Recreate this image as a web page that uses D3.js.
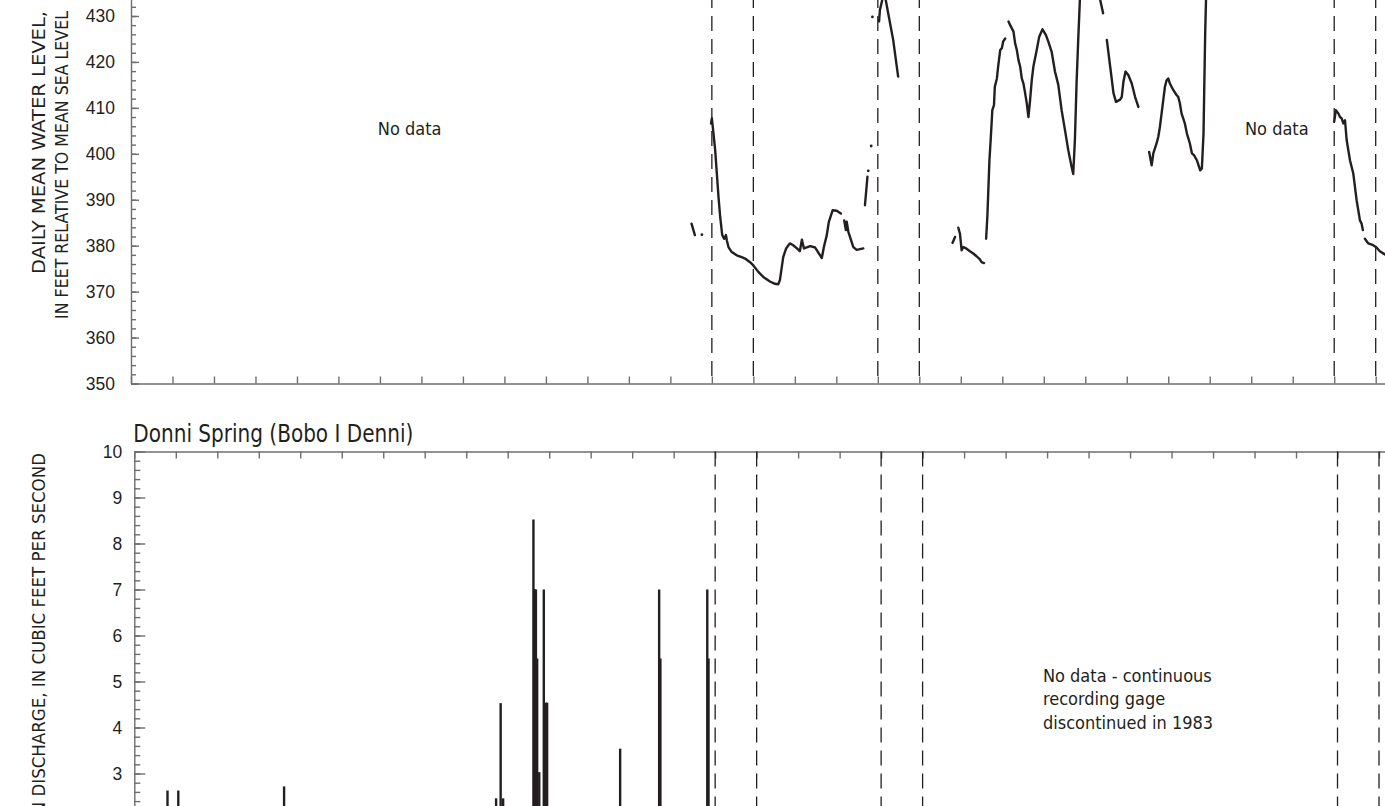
<!DOCTYPE html>
<html>
<head>
<meta charset="utf-8">
<script src="https://cdn.jsdelivr.net/npm/d3@7"></script>
<style>
  html, body { margin: 0; padding: 0; background: #fff; }
  svg { display: block; font-family: "Liberation Sans Narrow", "Arial Narrow", "DejaVu Sans Condensed", sans-serif; }
  .axis path, .axis line { stroke: #6d6e71; stroke-width: 1.4; }
  .axis text { fill: #231f20; font-size: 17.5px; }
  .title { fill: #231f20; font-size: 18.5px; }
  .note { fill: #231f20; font-size: 18px; }
  .gap { stroke: #231f20; stroke-width: 1.3; stroke-dasharray: 15 8; }
</style>
</head>
<body>
<svg id="chart" width="1385" height="806"></svg>
<script>
/* Water level of the well (top) and Donni Spring discharge (bottom),
 * shared yearly time axis. Only the part of the figure in view is drawn.
 */

// years at tick marks, and the start/end of the dashed comparison windows
const YEARS = d3.range(1969, 2001);
const WINDOW_YEARS = [1983, 1984, 1987, 1988, 1998, 1999];

// daily mean water level, feet above msl; null = break in record
const LEVEL_SERIES = [
  [1982.51, 384.8], [1982.59, 382.3], null,
  [1982.98, 406.6], [1983.00, 407.7], [1983.03, 405.2], [1983.08, 400.8], [1983.12, 395.7],
  [1983.16, 390.6], [1983.20, 386.3], [1983.25, 382.3], [1983.30, 381.5], [1983.34, 382.3],
  [1983.36, 381.2], [1983.40, 379.7], [1983.48, 378.6], [1983.60, 377.9], [1983.72, 377.5],
  [1983.80, 377.2], [1983.92, 376.4], [1984.00, 375.7], [1984.12, 374.3], [1984.24, 373.2],
  [1984.40, 372.2], [1984.52, 371.7], [1984.60, 371.6], [1984.64, 372.5], [1984.72, 377.5],
  [1984.79, 379.4], [1984.88, 380.5], [1984.96, 380.1], [1985.05, 379.4], [1985.12, 378.8],
  [1985.17, 381.3], [1985.22, 379.4], [1985.37, 379.9], [1985.49, 379.6], [1985.65, 377.3],
  [1985.70, 379.7], [1985.77, 382.3], [1985.82, 385.2], [1985.91, 387.7], [1986.01, 387.6],
  [1986.11, 387.0], null,
  [1986.19, 385.5], [1986.23, 383.4], [1986.25, 385.2], [1986.29, 383.0], [1986.41, 379.7],
  [1986.49, 379.1], [1986.65, 379.4], null,
  [1986.69, 388.8], [1986.75, 395.0], null,
  [1987.03, 428.8], [1987.05, 431.3], [1987.09, 432.8], [1987.15, 435.5], [1987.25, 430.6],
  [1987.37, 424.8], [1987.49, 416.8], null,
  [1988.80, 380.6], [1988.86, 381.9], null,
  [1988.94, 383.9], [1988.98, 382.6], [1989.02, 379.0], [1989.06, 379.7], [1989.13, 379.4],
  [1989.22, 378.8], [1989.30, 378.3], [1989.38, 377.7], [1989.46, 377.0], [1989.50, 376.4],
  [1989.56, 376.2], null,
  [1989.61, 381.5], [1989.64, 386.3], [1989.69, 398.6], [1989.72, 403.0], [1989.76, 409.5],
  [1989.80, 410.6], [1989.82, 414.6], [1989.87, 416.4], [1989.90, 419.0], [1989.95, 422.6],
  [1989.99, 423.0], [1990.02, 424.4], [1990.07, 425.1], null,
  [1990.15, 428.8], [1990.19, 428.0], [1990.23, 427.3], [1990.27, 426.6], [1990.31, 424.0],
  [1990.35, 422.6], [1990.39, 420.4], [1990.43, 419.0], [1990.47, 416.4], [1990.51, 415.3],
  [1990.55, 413.2], [1990.59, 411.0], [1990.63, 408.0], [1990.67, 411.7], [1990.71, 416.0],
  [1990.75, 419.0], [1990.83, 422.6], [1990.89, 425.5], [1990.97, 427.1], [1991.05, 425.9],
  [1991.11, 424.4], [1991.19, 422.2], [1991.27, 417.9], [1991.35, 415.0], [1991.43, 409.5],
  [1991.51, 405.2], [1991.59, 400.8], [1991.67, 397.2], [1991.71, 395.6], [1991.75, 403.0],
  [1991.79, 415.3], [1991.83, 424.8], [1991.87, 433.5], [1991.95, 439.0], [1992.10, 443.0],
  [1992.25, 441.0], [1992.36, 433.5], [1992.43, 430.6], null,
  [1992.52, 424.8], [1992.60, 419.0], [1992.68, 413.2], [1992.74, 411.3], [1992.84, 411.8],
  [1992.88, 412.4], [1992.92, 415.7], [1992.97, 417.9], [1993.04, 417.1], [1993.12, 415.3],
  [1993.20, 412.4], [1993.28, 410.2], null,
  [1993.54, 400.4], [1993.60, 397.5], [1993.64, 400.1], [1993.72, 402.3], [1993.76, 403.7],
  [1993.80, 405.9], [1993.84, 408.8], [1993.88, 411.7], [1993.92, 414.6], [1993.96, 416.0],
  [1994.00, 416.4], [1994.04, 415.3], [1994.12, 413.9], [1994.20, 412.8], [1994.24, 412.4],
  [1994.28, 411.0], [1994.32, 408.8], [1994.40, 406.6], [1994.45, 404.4], [1994.52, 402.3],
  [1994.57, 400.1], [1994.62, 399.7], [1994.69, 398.6], [1994.77, 396.4], [1994.81, 396.8],
  [1994.85, 404.4], [1994.89, 426.2], [1994.91, 433.5], [1994.95, 440.0], null,
  [1998.00, 407.0], [1998.04, 409.5], [1998.10, 408.8], [1998.14, 408.0], [1998.18, 407.7],
  [1998.22, 406.6], [1998.26, 407.3], [1998.30, 403.0], [1998.38, 398.6], [1998.46, 395.7],
  [1998.50, 392.8], [1998.54, 389.9], [1998.58, 387.7], [1998.62, 385.5], [1998.66, 384.8],
  [1998.69, 383.4], null,
  [1998.74, 381.5], [1998.82, 380.5], [1998.94, 380.1], [1999.02, 379.6], [1999.10, 378.8],
  [1999.22, 378.1]
];

// single-day readings standing alone
const LEVEL_DOTS = [[1982.76, 382.4], [1986.77, 396.3], [1986.84, 401.7], [1986.87, 429.8]];

// daily mean discharge spikes, cubic feet per second
const DISCHARGE_PEAKS = [
  [1969.80, 2.63], [1970.06, 2.63], [1972.61, 2.72],
  [1977.72, 2.46], [1977.83, 4.53], [1977.89, 2.46],
  [1978.62, 8.52], [1978.65, 7.0], [1978.66, 7.0], [1978.68, 7.0], [1978.71, 5.5],
  [1978.76, 3.03], [1978.87, 7.0], [1978.92, 4.54], [1978.95, 4.54],
  [1980.71, 3.54], [1981.65, 7.0], [1981.68, 5.5], [1982.81, 7.0], [1982.84, 5.5]
];

const LEVEL_TICKS = d3.range(350, 440, 10);
const DISCHARGE_TICKS = d3.range(0, 11, 1);

const svg = d3.select("#chart");

// ---- top panel: water level ----
const xTop = d3.scaleLinear().domain([1969, 2000]).range([131, 131 + 31 * 41.49]);
const yTop = d3.scaleLinear().domain([350, 450]).range([383.5, 383.5 - 100 * 4.594]);

const levelPanel = svg.append("g");

levelPanel.append("g").attr("class", "axis")
  .attr("transform", "translate(131,0)")
  .call(d3.axisLeft(yTop).tickValues(d3.range(350, 450, 2)).tickSize(-5).tickSizeOuter(0).tickFormat(""));
levelPanel.append("g").attr("class", "axis")
  .attr("transform", "translate(131,0)")
  .call(d3.axisLeft(yTop).tickValues(LEVEL_TICKS).tickSize(-8).tickSizeOuter(0).tickPadding(16))
  .call((g) => g.select(".domain").remove());
levelPanel.append("g").attr("class", "axis")
  .attr("transform", "translate(0,383.5)")
  .call(d3.axisBottom(xTop).tickValues(YEARS).tickSize(-7).tickSizeOuter(0).tickFormat(""));

levelPanel.append("g").selectAll("line")
  .data(WINDOW_YEARS).enter().append("line").attr("class", "gap")
  .attr("x1", (d) => xTop(d)).attr("x2", (d) => xTop(d))
  .attr("y1", yTop(450)).attr("y2", yTop(350));

const levelLine = d3.line()
  .defined((d) => d !== null)
  .x((d) => xTop(d[0])).y((d) => yTop(d[1]));

levelPanel.append("path").datum(LEVEL_SERIES)
  .attr("d", levelLine).attr("fill", "none")
  .attr("stroke", "#231f20").attr("stroke-width", 2.4)
  .attr("stroke-linejoin", "round").attr("stroke-linecap", "round");

levelPanel.append("g").selectAll("circle")
  .data(LEVEL_DOTS).enter().append("circle")
  .attr("cx", (d) => xTop(d[0])).attr("cy", (d) => yTop(d[1])).attr("r", 1.4)
  .attr("fill", "#231f20");

levelPanel.append("text").attr("class", "note").attr("x", xTop(1974.95)).attr("y", yTop(404.1)).text("No data");
levelPanel.append("text").attr("class", "note").attr("x", xTop(1995.85)).attr("y", yTop(404.1)).text("No data");

// both title lines end flush near the top edge
[["DAILY MEAN WATER LEVEL,", 45, 263], ["IN FEET RELATIVE TO MEAN SEA LEVEL", 68, 308]].forEach(([t, bx, len]) =>
  levelPanel.append("text").attr("class", "title")
    .attr("transform", `translate(${bx},11) rotate(-90)`).attr("text-anchor", "end")
    .attr("textLength", len).attr("lengthAdjust", "spacingAndGlyphs")
    .text(t));

// ---- bottom panel: spring discharge ----
const xBot = d3.scaleLinear().domain([1969, 2000]).range([134.3, 134.3 + 31 * 41.49]);
const yBot = d3.scaleLinear().domain([0, 10]).range([911.5, 451.5]);

const flowPanel = svg.append("g");

flowPanel.append("g").attr("class", "axis")
  .attr("transform", "translate(134.3,0)")
  .call(d3.axisLeft(yBot).tickValues(d3.range(0, 10.01, 0.2)).tickSize(-6).tickSizeOuter(0).tickFormat(""));
flowPanel.append("g").attr("class", "axis")
  .attr("transform", "translate(134.3,0)")
  .call(d3.axisLeft(yBot).tickValues(DISCHARGE_TICKS).tickSize(-11).tickSizeOuter(0).tickPadding(12))
  .call((g) => g.select(".domain").remove());
flowPanel.append("g").attr("class", "axis")
  .attr("transform", "translate(0,451.5)")
  .call(d3.axisTop(xBot).tickValues(YEARS).tickSize(-7).tickSizeOuter(0).tickFormat(""));

flowPanel.append("g").selectAll("line")
  .data(WINDOW_YEARS).enter().append("line").attr("class", "gap")
  .attr("x1", (d) => xBot(d)).attr("x2", (d) => xBot(d))
  .attr("y1", yBot(10)).attr("y2", yBot(0));

flowPanel.append("g").selectAll("line")
  .data(DISCHARGE_PEAKS).enter().append("line")
  .attr("x1", (d) => xBot(d[0])).attr("x2", (d) => xBot(d[0]))
  .attr("y1", yBot(0)).attr("y2", (d) => yBot(d[1]))
  .attr("stroke", "#231f20").attr("stroke-width", 2.4);

flowPanel.append("text").attr("x", xBot(1969) - 1).attr("y", yBot(10) - 10)
  .attr("fill", "#231f20").attr("font-size", 25)
  .attr("textLength", 280).attr("lengthAdjust", "spacingAndGlyphs")
  .text("Donni Spring (Bobo I Denni)");

const flowNote = flowPanel.append("text").attr("class", "note")
  .attr("x", xBot(1990.9)).attr("y", yBot(5.0));
["No data - continuous", "recording gage", "discontinued in 1983"].forEach((t, i) =>
  flowNote.append("tspan").attr("x", xBot(1990.9)).attr("dy", i ? 23.5 : 0).text(t));

flowPanel.append("text").attr("class", "title")
  .attr("transform", "translate(45,453) rotate(-90)").attr("text-anchor", "end")
  .text("DAILY MEAN DISCHARGE, IN CUBIC FEET PER SECOND");
</script>
</body>
</html>
